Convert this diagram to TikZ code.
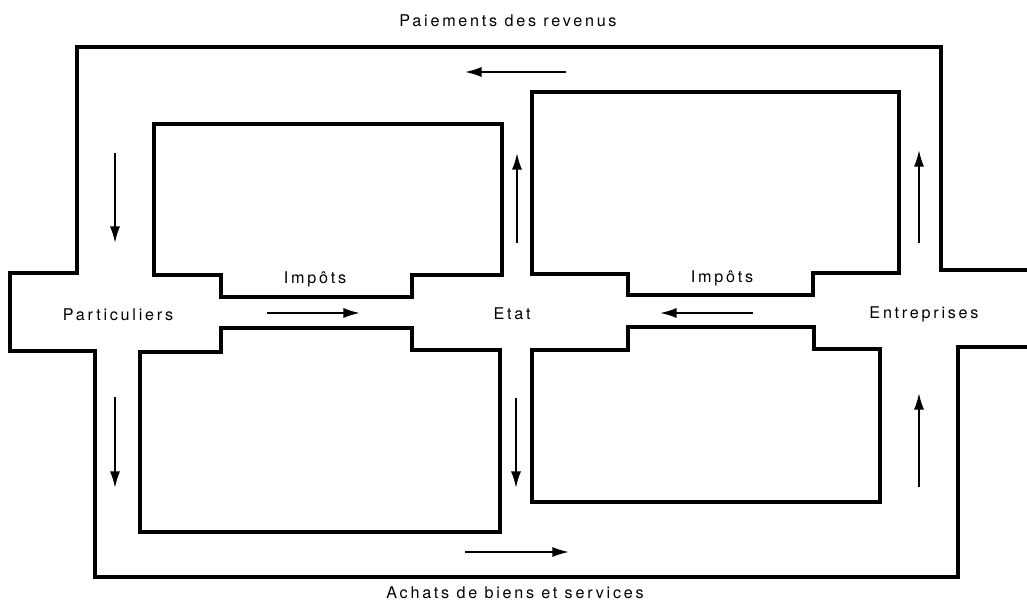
\documentclass[tikz,border=0pt]{standalone}
\usepackage{fontspec}
\setmainfont{TeX Gyre Heros}[LetterSpace=17]
\usetikzlibrary{arrows.meta}
\begin{document}
\begin{tikzpicture}[x=0.02cm, y=-0.02cm, >={Latex[length=9.5pt,width=5.8pt]},
    wall/.style={line width=2.3pt},
    flow/.style={->, line width=1.1pt},
    lbl/.style={font=\fontsize{9.2}{11}\selectfont, inner sep=0pt, anchor=base}]
    \useasboundingbox (0,0) rectangle (1027,608);
    % 外框
    \draw[wall] (1027,270) -- (941,270) -- (941,47) -- (77,47) -- (77,273) -- (10,273)
        -- (10,351) -- (95,351) -- (95,577) -- (958,577) -- (958,347) -- (1027,347);

    % 内部方块
    \draw[wall] (154,124) -- (502,124) -- (502,275) -- (412,275) -- (412,297) -- (221,297) -- (221,275) -- (154,275) -- cycle;
    \draw[wall] (532,92) -- (899,92) -- (899,273) -- (813,273) -- (813,295) -- (628,295) -- (628,274) -- (532,274) -- cycle;
    \draw[wall] (140,352) -- (221,352) -- (221,328) -- (412,328) -- (412,350) -- (500,350) -- (500,532) -- (140,532) -- cycle;
    \draw[wall] (532,350) -- (628,350) -- (628,327) -- (814,327) -- (814,349) -- (880,349) -- (880,502) -- (532,502) -- cycle;

    % 流向箭头
    \draw[flow] (566,72) -- (465,72);
    \draw[flow] (115,153) -- (115,243);
    \draw[flow] (115,397) -- (115,488);
    \draw[flow] (267,313) -- (360,313);
    \draw[flow] (517,243) -- (517,153);
    \draw[flow] (516,398) -- (516,488);
    \draw[flow] (753,313) -- (660,313);
    \draw[flow] (919,243) -- (919,150);
    \draw[flow] (919,487) -- (919,393);
    \draw[flow] (465,552) -- (569,552);

    % 文字
    \node[lbl] (revenus) at (508,27) {Paiements des revenus};
    \node[lbl] (achats) at (515,598) {Achats de biens et services};
    \node[lbl] (part) at (118,320) {Particuliers};
    \node[lbl] (etat) at (512,319) {Etat};
    \node[lbl] (entr) at (924,318) {Entreprises};
    \node[lbl] (impotsA) at (315,283) {Impôts};
    \node[lbl] (impotsB) at (722,282) {Impôts};
\end{tikzpicture}
\end{document}
